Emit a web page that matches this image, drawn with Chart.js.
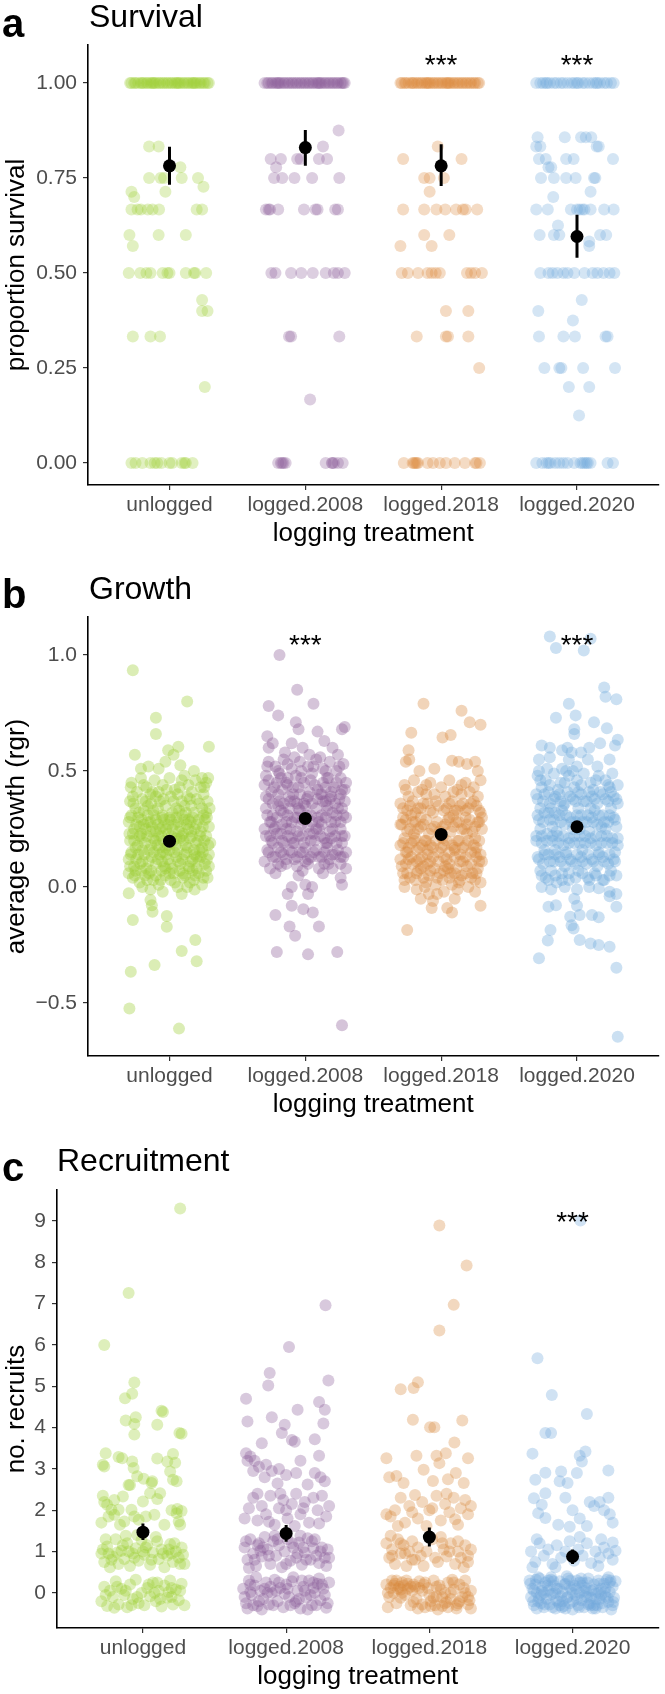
<!DOCTYPE html>
<html>
<head>
<meta charset="utf-8">
<title>Survival, growth and recruitment by logging treatment</title>
<script src="https://cdn.jsdelivr.net/npm/chart.js@4.4.1/dist/chart.umd.min.js"></script>
<style>
  html, body { margin: 0; padding: 0; background: #fff; }
  #page { position: relative; width: 665px; height: 1694px; }
  canvas { position: absolute; left: 0; display: block; }
</style>
</head>
<body>
<div id="page">
  <canvas id="survivalChart" width="665" height="556" style="top:0px"></canvas>
  <canvas id="growthChart" width="665" height="572" style="top:556px"></canvas>
  <canvas id="recruitChart" width="665" height="566" style="top:1128px"></canvas>
</div>
<script>
// categories and colours
const categories = ['unlogged', 'logged.2008', 'logged.2018', 'logged.2020'];
const baseColours = ['154,205,50', '138,92,151', '217,137,61', '111,168,220'];

// ---- a: survival ----  points are [jitter offset, proportion]
// plots where every seedling survived (proportion = 1), only the jitter offset is listed
const survTopUnlogged = [-0.29,-0.28,-0.26,-0.25,-0.23,-0.21,-0.2,-0.19,-0.17,-0.16,-0.14,-0.13,-0.11,-0.1,-0.08,-0.07,-0.05,-0.04,-0.02,-0.01,0.01,0.02,0.04,0.05,0.07,0.08,0.1,0.11,0.13,0.14,0.16,0.17,0.19,0.2,0.22,0.23,0.25,0.26,0.28,0.29,-0.12,0.06,0.18];
const survTop2008 = [-0.3,-0.28,-0.27,-0.25,-0.24,-0.22,-0.21,-0.19,-0.18,-0.16,-0.15,-0.13,-0.12,-0.1,-0.09,-0.07,-0.06,-0.04,-0.03,-0.01,0.0,0.02,0.03,0.05,0.06,0.08,0.09,0.11,0.12,0.14,0.15,0.17,0.18,0.2,0.21,0.23,0.24,0.26,0.27,0.29,0.28,-0.2,0.1];
const survTop2018 = [-0.3,-0.29,-0.27,-0.26,-0.24,-0.22,-0.21,-0.2,-0.18,-0.17,-0.15,-0.14,-0.12,-0.11,-0.09,-0.08,-0.06,-0.05,-0.03,-0.02,0.0,0.01,0.03,0.04,0.06,0.07,0.09,0.1,0.12,0.13,0.15,0.16,0.18,0.19,0.21,0.22,0.24,0.25,0.27,0.28,-0.1,0.05];
const survTop2020 = [-0.3,-0.27,-0.25,-0.22,-0.2,-0.17,-0.15,-0.12,-0.1,-0.07,-0.04,-0.02,0.01,0.04,0.06,0.09,0.12,0.14,0.17,0.2,0.22,0.25,0.27,-0.23,0.0,0.15];

const survUnlogged = [[-0.15,0.833],[-0.08,0.833],[0.08,0.778],[-0.15,0.75],[-0.065,0.75],[-0.04,0.75],[0.09,0.75],[0.21,0.75],[0.25,0.727],[-0.03,0.714],[-0.28,0.714],[-0.26,0.7],
  [-0.28,0.667],[-0.235,0.667],[-0.21,0.667],[-0.16,0.667],[-0.125,0.667],[-0.077,0.667],[0.2,0.667],[0.24,0.667],[-0.295,0.6],[-0.27,0.571],[-0.08,0.6],[0.12,0.6],
  [-0.3,0.5],[-0.215,0.5],[-0.17,0.5],[-0.14,0.5],[-0.05,0.5],[-0.015,0.5],[0,0.5],[0.12,0.5],[0.18,0.5],[0.19,0.5],[0.27,0.5],
  [0.24,0.429],[0.24,0.4],[0.28,0.4],[-0.27,0.333],[-0.14,0.333],[-0.07,0.333],[0.26,0.2],
  [-0.28,0],[-0.25,0],[-0.2,0],[-0.14,0],[-0.09,0],[-0.06,0],[0.02,0],[0.09,0],[0.11,0],[0.17,0],[0.12,0],[-0.11,0],[0.0,0]];
const surv2008 = [[0.245,0.875],[0.13,0.833],[-0.255,0.8],[-0.18,0.8],[-0.06,0.8],[-0.035,0.8],[0.1,0.8],[0.16,0.8],[-0.215,0.778],[-0.23,0.75],[-0.17,0.75],[-0.08,0.75],[0.05,0.75],[0.25,0.75],
  [-0.29,0.667],[-0.26,0.667],[-0.2,0.667],[-0.01,0.667],[0.075,0.667],[0.09,0.667],[0.22,0.667],[0.24,0.667],[-0.27,0.667],
  [-0.25,0.5],[-0.22,0.5],[-0.105,0.5],[-0.03,0.5],[0.055,0.5],[0.15,0.5],[0.21,0.5],[0.24,0.5],[0.29,0.5],
  [-0.12,0.333],[-0.105,0.333],[0.25,0.333],[0.035,0.167],
  [-0.2,0],[-0.17,0],[-0.145,0],[0.15,0],[0.195,0],[0.21,0],[0.24,0],[0.275,0],[-0.16,0],[0.2,0],[-0.18,0]];
const surv2018 = [[-0.025,0.833],[-0.28,0.8],[0.15,0.8],[-0.125,0.75],[-0.085,0.75],[0.02,0.75],[-0.085,0.714],
  [-0.28,0.667],[-0.125,0.667],[-0.035,0.667],[0.03,0.667],[0.11,0.667],[0.16,0.667],[0.18,0.667],[0.265,0.667],
  [-0.125,0.6],[0.06,0.6],[-0.3,0.571],[-0.07,0.571],
  [-0.29,0.5],[-0.245,0.5],[-0.17,0.5],[-0.1,0.5],[-0.07,0.5],[-0.04,0.5],[-0.01,0.5],[0.19,0.5],[0.22,0.5],[0.25,0.5],[0.3,0.5],
  [0.035,0.4],[0.2,0.4],[-0.18,0.333],[0.035,0.333],[0.05,0.333],[0.2,0.333],[0.28,0.25],
  [-0.275,0],[-0.21,0],[-0.18,0],[-0.17,0],[-0.1,0],[-0.06,0],[-0.01,0],[0.035,0],[0.1,0],[0.175,0],[0.25,0],[0.285,0],[-0.2,0],[0.26,0],[-0.19,0]];
const surv2020 = [[-0.29,0.857],[-0.09,0.857],[0.03,0.857],[0.065,0.857],[0.105,0.857],[-0.3,0.833],[-0.27,0.833],[0.145,0.833],[0.16,0.833],
  [-0.28,0.8],[-0.23,0.8],[-0.08,0.8],[-0.025,0.8],[0.265,0.8],[-0.21,0.778],[-0.19,0.778],
  [-0.265,0.75],[-0.17,0.75],[-0.08,0.75],[-0.01,0.75],[0.125,0.75],[0.135,0.75],[-0.175,0.7],[0.1,0.714],
  [-0.3,0.667],[-0.215,0.667],[-0.045,0.667],[0,0.667],[0.02,0.667],[0.04,0.667],[0.055,0.667],[0.1,0.667],[0.2,0.667],[0.27,0.667],
  [-0.275,0.6],[-0.17,0.6],[-0.13,0.6],[0.17,0.6],[0.215,0.6],[-0.14,0.625],[0.09,0.571],[0.09,0.583],
  [-0.27,0.5],[-0.21,0.5],[-0.18,0.5],[-0.145,0.5],[-0.1,0.5],[-0.07,0.5],[-0.02,0.5],[0.055,0.5],[0.115,0.5],[0.15,0.5],[0.195,0.5],[0.24,0.5],[0.275,0.5],
  [0.035,0.429],[-0.285,0.4],[-0.03,0.375],[-0.28,0.333],[-0.1,0.333],[-0.015,0.333],[0.21,0.333],[0.225,0.333],
  [-0.24,0.25],[-0.13,0.25],[-0.115,0.25],[0.045,0.25],[0.28,0.25],[-0.06,0.2],[0.09,0.2],[0.015,0.125],
  [-0.3,0],[-0.255,0],[-0.225,0],[-0.195,0],[-0.16,0],[-0.13,0],[-0.1,0],[-0.07,0],[-0.02,0],[0.025,0],[0.055,0],[0.07,0],[0.1,0],[0.225,0],[0.265,0],[-0.21,0],[0.04,0],[0.08,0]];
const survMean = [0.782, 0.83, 0.782, 0.596];
const survLow = [0.732, 0.782, 0.729, 0.54];
const survHigh = [0.832, 0.876, 0.839, 0.653];

// ---- b: growth ----  points are [jitter offset, relative growth rate]
const growthUnlogged = [[-0.27,0.935],[0.13,0.8],[-0.1,0.73],[-0.1,0.66],[-0.255,0.57],[0.29,0.605],[-0.01,0.59],[0.065,0.605],[0.03,0.57],[-0.03,0.54],[0.08,0.525],[-0.08,0.51],[-0.21,0.51],[-0.155,0.52],[0.18,0.5],[0.24,0.47],[0.285,0.47],
  [-0.3,-0.027],[-0.2,0.0],[-0.14,-0.01],[-0.14,-0.056],[-0.13,-0.078],[-0.125,-0.106],[-0.27,-0.142],[-0.02,-0.125],[-0.02,-0.171],[-0.05,-0.02],[0.09,-0.03],[0.19,-0.228],[0.09,-0.275],[0.2,-0.32],[-0.11,-0.336],[-0.285,-0.365],[-0.295,-0.523],[0.07,-0.61],[0.185,-0.01],
  [-0.28,0.45],[-0.21,0.47],[-0.17,0.43],[-0.11,0.46],[-0.05,0.44],[0.0,0.47],[0.04,0.42],[0.09,0.46],[0.14,0.44],[0.19,0.46],[0.23,0.43],[0.27,0.45],[-0.24,0.41],[-0.08,0.41],[0.11,0.48],[-0.14,0.4],[0.06,0.4],[0.25,0.4],
  [-0.29,0.37],[-0.25,0.34],[-0.2,0.38],[-0.16,0.35],[-0.12,0.33],[-0.07,0.37],[-0.03,0.35],[0.01,0.39],[0.05,0.34],[0.09,0.37],[0.13,0.39],[0.16,0.35],[0.2,0.38],[0.24,0.34],[0.28,0.37],[-0.27,0.39],[-0.1,0.39],[0.02,0.32],[0.18,0.32],[-0.05,0.31],[0.27,0.32],[-0.19,0.33],
  [-0.3,0.28],[-0.26,0.25],[-0.23,0.3],[-0.19,0.27],[-0.16,0.31],[-0.13,0.26],[-0.1,0.29],[-0.07,0.25],[-0.04,0.29],[-0.01,0.27],[0.02,0.25],[0.05,0.3],[0.08,0.26],[0.11,0.29],[0.14,0.25],[0.17,0.3],[0.2,0.27],[0.23,0.24],[0.26,0.29],[0.29,0.26],[-0.21,0.23],[0.0,0.3],[0.12,0.32],[-0.08,0.22],[0.25,0.31],[-0.28,0.31],
  [-0.29,0.2],[-0.25,0.17],[-0.22,0.22],[-0.18,0.19],[-0.15,0.16],[-0.12,0.21],[-0.09,0.18],[-0.06,0.22],[-0.03,0.17],[0.03,0.2],[0.06,0.16],[0.09,0.22],[0.12,0.18],[0.15,0.21],[0.18,0.16],[0.21,0.2],[0.24,0.17],[0.27,0.22],[0.3,0.19],[-0.27,0.23],[-0.01,0.23],[0.16,0.24],[-0.14,0.24],[0.07,0.24],
  [-0.3,0.12],[-0.26,0.09],[-0.23,0.14],[-0.2,0.11],[-0.17,0.08],[-0.13,0.13],[-0.1,0.1],[-0.07,0.14],[-0.04,0.09],[-0.01,0.12],[0.02,0.08],[0.05,0.13],[0.08,0.1],[0.11,0.14],[0.14,0.09],[0.17,0.12],[0.2,0.08],[0.23,0.13],[0.26,0.1],[0.29,0.14],[-0.28,0.15],[-0.05,0.15],[0.1,0.06],[0.22,0.16],[-0.15,0.06],
  [-0.27,0.04],[-0.22,0.02],[-0.18,0.05],[-0.12,0.03],[-0.08,0.01],[-0.03,0.05],[0.01,0.03],[0.06,0.0],[0.1,0.04],[0.15,0.02],[0.19,0.05],[0.24,0.01],[0.28,0.04],[-0.25,0.07],[0.03,0.06],[0.17,0.07],[-0.06,0.07],[0.27,0.07],[-0.3,0.06],[0.13,0.0],
  [-0.285,0.43],[-0.19,0.44],[-0.125,0.41],[-0.02,0.42],[0.075,0.43],[0.165,0.41],[0.255,0.43],
  [-0.265,0.36],[-0.225,0.32],[-0.175,0.37],[-0.135,0.36],[-0.085,0.34],[-0.045,0.38],[0.03,0.37],[0.07,0.33],[0.11,0.35],[0.15,0.38],[0.22,0.36],[0.295,0.34],
  [-0.29,0.3],[-0.245,0.27],[-0.205,0.29],[-0.175,0.25],[-0.14,0.28],[-0.115,0.31],[-0.085,0.27],[-0.055,0.3],[-0.025,0.25],[0.01,0.29],[0.035,0.27],[0.065,0.28],[0.095,0.31],[0.125,0.27],[0.155,0.28],[0.185,0.25],[0.215,0.29],[0.245,0.26],[0.275,0.3],
  [-0.295,0.23],[-0.26,0.2],[-0.235,0.18],[-0.205,0.21],[-0.165,0.22],[-0.135,0.18],[-0.105,0.2],[-0.075,0.17],[-0.045,0.2],[-0.015,0.18],[0.015,0.22],[0.045,0.18],[0.075,0.21],[0.105,0.2],[0.135,0.17],[0.165,0.22],[0.195,0.19],[0.225,0.22],[0.255,0.2],[0.285,0.18],
  [-0.285,0.14],[-0.245,0.12],[-0.215,0.1],[-0.185,0.14],[-0.155,0.11],[-0.115,0.15],[-0.085,0.12],[-0.055,0.11],[-0.025,0.14],[0.005,0.1],[0.035,0.15],[0.065,0.11],[0.095,0.12],[0.125,0.15],[0.155,0.11],[0.185,0.14],[0.215,0.11],[0.245,0.15],[0.275,0.12],
  [-0.29,0.09],[-0.255,0.05],[-0.21,0.07],[-0.165,0.03],[-0.135,0.07],[-0.1,0.05],[-0.065,0.03],[-0.03,0.08],[0.0,0.06],[0.04,0.02],[0.075,0.07],[0.115,0.05],[0.145,0.08],[0.18,0.03],[0.215,0.06],[0.25,0.04],[0.29,0.09],
  [-0.2,0.16],[0.0,0.16],[0.2,0.13],[-0.1,0.24],[0.1,0.23],[-0.22,0.26],[0.05,0.21],[-0.05,0.26],[0.14,0.29],[-0.16,0.28]];
const growth2008 = [[-0.19,1.0],[-0.06,0.85],[-0.27,0.78],[0.06,0.79],[-0.2,0.74],[-0.07,0.71],[-0.05,0.68],[0.09,0.67],[0.27,0.68],[0.29,0.69],[-0.28,0.65],[-0.24,0.62],[-0.1,0.62],[-0.02,0.6],[0.03,0.57],[-0.15,0.58],[0.14,0.63],[0.2,0.6],[0.24,0.57],[-0.27,0.6],
  [-0.22,0.06],[-0.05,0.05],[0.13,0.06],[0.26,0.04],[-0.1,0.0],[0.0,0.01],[0.05,0.0],[-0.13,-0.03],[0.02,-0.03],[-0.1,-0.08],[-0.015,-0.095],[0.055,-0.11],[-0.22,-0.12],[-0.116,-0.17],[-0.075,-0.21],[0.1,-0.17],[-0.21,-0.28],[0.02,-0.29],[0.235,-0.28],[0.27,-0.595],[0.27,0.01],
  [-0.27,0.54],[-0.22,0.52],[-0.16,0.55],[-0.1,0.51],[-0.04,0.54],[0.02,0.52],[0.08,0.55],[0.13,0.51],[0.18,0.54],[0.23,0.5],[0.28,0.53],[-0.19,0.49],[-0.07,0.48],[0.05,0.49],[0.16,0.47],[-0.29,0.48],[0.26,0.47],[-0.13,0.47],
  [-0.3,0.44],[-0.25,0.41],[-0.21,0.45],[-0.17,0.42],[-0.13,0.44],[-0.09,0.4],[-0.05,0.43],[-0.01,0.45],[0.03,0.41],[0.07,0.44],[0.11,0.4],[0.15,0.43],[0.19,0.41],[0.23,0.45],[0.27,0.42],[0.3,0.45],[-0.27,0.38],[-0.11,0.37],[0.01,0.38],[0.13,0.37],[0.25,0.38],[-0.19,0.37],
  [-0.29,0.34],[-0.24,0.31],[-0.2,0.35],[-0.16,0.32],[-0.12,0.34],[-0.08,0.3],[-0.04,0.33],[0.0,0.35],[0.04,0.31],[0.08,0.34],[0.12,0.31],[0.16,0.35],[0.2,0.32],[0.24,0.34],[0.28,0.31],[-0.26,0.28],[-0.14,0.28],[-0.02,0.29],[0.1,0.28],[0.22,0.28],[-0.06,0.36],[0.18,0.38],
  [-0.3,0.25],[-0.26,0.22],[-0.22,0.26],[-0.18,0.23],[-0.14,0.25],[-0.1,0.21],[-0.06,0.24],[-0.02,0.22],[0.02,0.26],[0.06,0.23],[0.1,0.25],[0.14,0.21],[0.18,0.24],[0.22,0.22],[0.26,0.25],[0.29,0.22],[-0.24,0.19],[-0.08,0.19],[0.04,0.2],[0.16,0.19],[0.27,0.19],[-0.16,0.19],
  [-0.28,0.16],[-0.24,0.13],[-0.2,0.17],[-0.16,0.14],[-0.12,0.16],[-0.08,0.12],[-0.04,0.15],[0.0,0.17],[0.04,0.13],[0.08,0.16],[0.12,0.13],[0.16,0.17],[0.2,0.14],[0.24,0.16],[0.28,0.13],[-0.3,0.11],[-0.14,0.1],[0.02,0.1],[0.14,0.1],[0.26,0.1],[-0.06,0.09],
  [-0.26,0.08],[-0.18,0.09],[0.1,0.08],[0.2,0.08],[-0.02,0.07],[0.3,0.08],
  [-0.28,0.52],[-0.2,0.5],[-0.13,0.53],[-0.03,0.5],[0.06,0.52],[0.15,0.5],[0.25,0.52],[-0.08,0.56],[0.11,0.56],
  [-0.27,0.46],[-0.23,0.43],[-0.18,0.47],[-0.14,0.45],[-0.09,0.43],[-0.03,0.47],[0.04,0.46],[0.09,0.42],[0.13,0.45],[0.17,0.47],[0.21,0.43],[0.29,0.42],
  [-0.29,0.39],[-0.24,0.36],[-0.2,0.4],[-0.16,0.36],[-0.12,0.39],[-0.08,0.37],[-0.04,0.4],[-0.01,0.36],[0.02,0.39],[0.05,0.36],[0.09,0.38],[0.12,0.4],[0.15,0.37],[0.19,0.39],[0.22,0.36],[0.26,0.4],[0.29,0.37],
  [-0.28,0.31],[-0.25,0.28],[-0.21,0.3],[-0.17,0.27],[-0.13,0.31],[-0.1,0.28],[-0.06,0.3],[-0.03,0.27],[0.01,0.31],[0.05,0.28],[0.09,0.3],[0.12,0.27],[0.15,0.3],[0.19,0.28],[0.23,0.31],[0.26,0.28],[0.3,0.3],
  [-0.29,0.22],[-0.25,0.2],[-0.21,0.23],[-0.17,0.2],[-0.13,0.22],[-0.09,0.19],[-0.05,0.22],[-0.01,0.19],[0.03,0.23],[0.07,0.2],[0.11,0.22],[0.15,0.19],[0.19,0.21],[0.23,0.19],[0.27,0.22],
  [-0.27,0.15],[-0.22,0.13],[-0.18,0.15],[-0.14,0.12],[-0.1,0.15],[-0.06,0.13],[-0.02,0.15],[0.02,0.12],[0.06,0.15],[0.1,0.13],[0.14,0.15],[0.18,0.12],[0.22,0.14],[0.26,0.13],[0.3,0.15],
  [-0.2,0.1],[0.0,0.11],[0.17,0.1],[-0.11,0.25],[0.08,0.25],[0.2,0.25],[-0.23,0.25],[-0.05,0.34],[0.16,0.33],[0.27,0.34],[-0.18,0.33]];
const growth2018 = [[-0.13,0.79],[0.15,0.76],[0.21,0.71],[0.29,0.7],[-0.22,0.665],[0.01,0.645],[0.07,0.655],[-0.24,0.59],[-0.235,0.55],[-0.26,0.54],[0.08,0.545],[0.13,0.54],[0.19,0.53],[0.25,0.54],[0.27,0.5],[-0.05,0.51],[-0.16,0.5],
  [-0.27,0.0],[-0.18,-0.01],[-0.12,0.0],[-0.09,-0.03],[-0.03,-0.03],[0.02,-0.02],[0.12,-0.01],[0.2,0.0],[0.25,-0.02],[-0.07,-0.09],[0.045,-0.09],[0.29,-0.08],[-0.25,-0.185],[-0.15,-0.05],[-0.06,-0.06],[0.1,-0.05],[0.08,-0.11],
  [-0.27,0.44],[-0.2,0.46],[-0.14,0.42],[-0.08,0.45],[0.0,0.43],[0.06,0.46],[0.12,0.42],[0.18,0.45],[0.24,0.43],[0.29,0.46],[-0.24,0.39],[-0.11,0.4],[0.03,0.39],[0.15,0.4],[0.27,0.39],
  [-0.3,0.36],[-0.25,0.33],[-0.21,0.37],[-0.17,0.34],[-0.13,0.36],[-0.08,0.33],[-0.04,0.37],[0.04,0.34],[0.08,0.37],[0.12,0.33],[0.16,0.36],[0.2,0.34],[0.24,0.37],[0.28,0.33],[-0.28,0.3],[-0.15,0.3],[0.06,0.3],[0.18,0.3],[0.3,0.3],[-0.22,0.31],
  [-0.29,0.27],[-0.25,0.24],[-0.21,0.28],[-0.17,0.25],[-0.13,0.27],[-0.09,0.23],[-0.05,0.26],[-0.01,0.24],[0.03,0.27],[0.07,0.24],[0.11,0.28],[0.15,0.25],[0.19,0.27],[0.23,0.24],[0.27,0.28],[0.3,0.25],[-0.27,0.21],[-0.11,0.2],[0.01,0.21],[0.13,0.2],[0.25,0.21],[-0.19,0.21],[0.09,0.31],
  [-0.3,0.18],[-0.26,0.15],[-0.22,0.19],[-0.18,0.16],[-0.14,0.18],[-0.1,0.14],[-0.06,0.17],[-0.02,0.15],[0.02,0.18],[0.06,0.15],[0.1,0.17],[0.14,0.14],[0.18,0.18],[0.22,0.15],[0.26,0.17],[0.29,0.14],[-0.24,0.12],[-0.08,0.11],[0.04,0.12],[0.16,0.11],[0.28,0.11],[-0.16,0.12],
  [-0.29,0.09],[-0.25,0.06],[-0.21,0.1],[-0.17,0.07],[-0.13,0.09],[-0.09,0.05],[-0.05,0.08],[-0.01,0.06],[0.03,0.09],[0.07,0.06],[0.11,0.08],[0.15,0.05],[0.19,0.09],[0.23,0.06],[0.27,0.08],[-0.27,0.03],[-0.11,0.02],[0.01,0.03],[0.13,0.02],[0.25,0.03],[-0.19,0.03],[0.08,0.01],[-0.04,0.01],
  [-0.26,0.42],[-0.17,0.41],[-0.05,0.4],[0.09,0.41],[0.21,0.41],[-0.11,0.44],[0.15,0.44],
  [-0.28,0.34],[-0.23,0.35],[-0.19,0.32],[-0.15,0.34],[-0.1,0.36],[-0.06,0.32],[-0.02,0.35],[0.02,0.33],[0.06,0.36],[0.1,0.33],[0.14,0.35],[0.18,0.33],[0.22,0.36],[0.26,0.35],[0.29,0.32],
  [-0.3,0.27],[-0.26,0.29],[-0.23,0.25],[-0.19,0.28],[-0.15,0.26],[-0.11,0.29],[-0.07,0.25],[-0.03,0.28],[0.01,0.26],[0.05,0.29],[0.09,0.26],[0.13,0.28],[0.17,0.25],[0.21,0.29],[0.25,0.26],[0.28,0.28],
  [-0.28,0.19],[-0.24,0.17],[-0.2,0.2],[-0.16,0.17],[-0.12,0.2],[-0.08,0.18],[-0.04,0.2],[0.0,0.17],[0.04,0.2],[0.08,0.18],[0.12,0.2],[0.16,0.17],[0.2,0.2],[0.24,0.18],[0.28,0.2],
  [-0.3,0.12],[-0.26,0.1],[-0.22,0.13],[-0.18,0.11],[-0.14,0.13],[-0.1,0.1],[-0.06,0.13],[-0.02,0.11],[0.02,0.13],[0.06,0.1],[0.1,0.13],[0.14,0.11],[0.18,0.13],[0.22,0.1],[0.26,0.13],[0.3,0.11],
  [-0.28,0.06],[-0.23,0.04],[-0.18,0.06],[-0.13,0.04],[-0.08,0.07],[-0.03,0.04],[0.02,0.07],[0.06,0.04],[0.1,0.06],[0.14,0.03],[0.18,0.06],[0.22,0.04],[0.26,0.06],[0.29,0.02],
  [-0.2,0.23],[0.0,0.22],[0.19,0.23],[-0.1,0.16],[0.1,0.16],[-0.25,0.15],[0.25,0.15],[-0.15,0.08],[0.05,0.08]];
const growth2020 = [[-0.2,1.08],[-0.155,1.03],[0.05,1.02],[0.1,1.07],[0.2,0.86],[0.21,0.82],[0.29,0.81],[-0.06,0.79],[-0.155,0.73],[-0.01,0.74],[0.125,0.71],[0.22,0.685],[0.3,0.635],[0.28,0.61],[-0.02,0.68],[-0.02,0.66],
  [-0.26,0.61],[-0.2,0.6],[-0.11,0.59],[-0.07,0.6],[-0.04,0.58],[0.03,0.58],[0.09,0.6],[0.17,0.62],[-0.2,0.56],[-0.28,0.55],[-0.22,0.51],[-0.28,0.5],[-0.11,0.51],[-0.06,0.55],[0.0,0.52],[-0.03,0.5],[0.08,0.55],[0.15,0.52],[0.24,0.55],
  [-0.26,0.0],[-0.19,-0.01],[-0.09,0.0],[0.0,-0.01],[0.09,0.0],[0.16,-0.005],[0.24,-0.02],[0.29,-0.03],[-0.21,-0.085],[-0.155,-0.078],[-0.02,-0.05],[0.0,-0.08],[-0.05,-0.128],[-0.04,-0.164],[-0.025,-0.178],[0.02,-0.12],[0.11,-0.12],[0.16,-0.13],[-0.195,-0.185],[-0.215,-0.23],[0.02,-0.228],[0.1,-0.243],[0.16,-0.25],[0.24,-0.257],[-0.28,-0.307],[0.29,-0.348],[0.3,-0.645],[0.24,-0.04],[0.29,-0.085],
  [-0.29,0.48],[-0.23,0.46],[-0.17,0.49],[-0.12,0.45],[-0.06,0.48],[0.0,0.46],[0.05,0.49],[0.1,0.45],[0.16,0.48],[0.21,0.46],[0.26,0.49],[-0.26,0.43],[-0.14,0.42],[-0.02,0.43],[0.12,0.42],[0.24,0.43],[0.3,0.44],[-0.08,0.5],
  [-0.3,0.4],[-0.25,0.37],[-0.21,0.41],[-0.17,0.38],[-0.13,0.4],[-0.09,0.36],[-0.05,0.39],[-0.01,0.37],[0.03,0.4],[0.07,0.37],[0.11,0.39],[0.15,0.36],[0.19,0.4],[0.23,0.37],[0.27,0.39],[0.3,0.36],[-0.27,0.34],[-0.11,0.33],[0.01,0.34],[0.13,0.33],[0.25,0.34],[-0.19,0.34],
  [-0.29,0.31],[-0.25,0.28],[-0.21,0.32],[-0.17,0.29],[-0.13,0.31],[-0.09,0.27],[-0.05,0.3],[-0.01,0.28],[0.03,0.31],[0.07,0.28],[0.11,0.3],[0.15,0.27],[0.19,0.31],[0.23,0.28],[0.27,0.3],[-0.27,0.25],[-0.15,0.24],[-0.03,0.25],[0.09,0.24],[0.21,0.25],[0.29,0.26],
  [-0.3,0.22],[-0.26,0.19],[-0.22,0.23],[-0.18,0.2],[-0.14,0.22],[-0.1,0.18],[-0.06,0.21],[-0.02,0.19],[0.02,0.22],[0.06,0.19],[0.1,0.21],[0.14,0.18],[0.18,0.22],[0.22,0.19],[0.26,0.21],[0.3,0.18],[-0.24,0.16],[-0.08,0.15],[0.04,0.16],[0.16,0.15],[0.28,0.15],[-0.16,0.16],
  [-0.29,0.13],[-0.25,0.1],[-0.21,0.14],[-0.17,0.11],[-0.13,0.13],[-0.09,0.09],[-0.05,0.12],[-0.01,0.1],[0.03,0.13],[0.07,0.1],[0.11,0.12],[0.15,0.09],[0.19,0.13],[0.23,0.1],[0.27,0.12],[-0.27,0.07],[-0.11,0.06],[0.01,0.07],[0.13,0.06],[0.25,0.07],[-0.19,0.07],
  [-0.23,0.04],[-0.06,0.03],[0.08,0.04],[0.2,0.03],[-0.15,0.02],[0.29,0.05],
  [-0.27,0.46],[-0.2,0.44],[-0.09,0.45],[0.03,0.44],[0.14,0.46],[0.23,0.44],
  [-0.29,0.38],[-0.24,0.4],[-0.2,0.36],[-0.16,0.39],[-0.12,0.37],[-0.07,0.41],[-0.03,0.38],[0.01,0.41],[0.05,0.37],[0.09,0.41],[0.13,0.38],[0.17,0.41],[0.21,0.38],[0.25,0.41],[0.29,0.38],
  [-0.28,0.29],[-0.24,0.32],[-0.2,0.29],[-0.16,0.32],[-0.12,0.28],[-0.08,0.31],[-0.04,0.28],[0.0,0.31],[0.04,0.28],[0.08,0.31],[0.12,0.28],[0.16,0.31],[0.2,0.28],[0.24,0.31],[0.28,0.29],
  [-0.3,0.2],[-0.26,0.22],[-0.22,0.2],[-0.18,0.22],[-0.14,0.19],[-0.1,0.22],[-0.06,0.19],[-0.02,0.22],[0.02,0.19],[0.06,0.22],[0.1,0.19],[0.14,0.22],[0.18,0.19],[0.22,0.22],[0.26,0.19],[0.3,0.21],
  [-0.28,0.12],[-0.24,0.14],[-0.2,0.11],[-0.16,0.14],[-0.12,0.11],[-0.08,0.14],[-0.04,0.11],[0.0,0.14],[0.04,0.11],[0.08,0.14],[0.12,0.11],[0.16,0.14],[0.2,0.11],[0.24,0.14],[0.28,0.11],
  [-0.26,0.05],[-0.21,0.03],[-0.16,0.05],[-0.11,0.03],[-0.06,0.06],[-0.01,0.04],[0.04,0.06],[0.09,0.03],[0.14,0.05],[0.19,0.03],[0.24,0.05],
  [-0.18,0.26],[0.02,0.25],[0.18,0.26],[-0.1,0.35],[0.1,0.34]];
const growthMean = [0.198, 0.296, 0.227, 0.26];
const growthLow = [0.18, 0.278, 0.209, 0.241];
const growthHigh = [0.216, 0.314, 0.245, 0.279];

// ---- c: recruitment ----  points are [jitter offset, jittered recruit count]
const recruitUnlogged = [[0.26,9.3],[-0.1,7.26],[-0.27,6.0],[-0.06,5.09],[-0.075,4.82],[-0.125,4.71],[0.13,4.41],[0.14,4.38],
  [-0.12,4.17],[-0.06,4.09],[-0.06,3.83],[0.1,4.07],[0.255,3.87],[0.27,3.85],[-0.05,4.25],
  [-0.26,3.38],[-0.17,3.29],[-0.145,3.26],[-0.28,3.1],[-0.27,3.06],[-0.075,3.18],[-0.065,3.02],[-0.04,2.82],[-0.09,2.61],[0.21,3.36],[0.17,3.18],[0.225,3.15],[0.19,2.94],[0.21,2.74],[0.235,2.7],[0.065,2.7],[0.005,2.76],[0.1,3.25],
  [-0.28,2.35],[-0.27,2.2],[-0.25,2.13],[-0.22,2.01],[-0.2,1.89],[-0.17,2.01],[-0.16,1.65],[-0.13,1.73],[-0.1,2.61],[-0.08,2.01],[-0.06,1.85],[-0.03,1.77],[0.02,1.85],[0.05,2.41],[0.08,1.89],[0.1,2.27],[0.12,2.41],[0.15,1.65],[0.2,2.0],[0.24,2.03],[0.235,1.93],[0.25,1.73],[0.26,1.65],[-0.29,1.7],[-0.2,2.25],[-0.14,2.33],[0.06,2.66],[0.0,2.21],[0.27,1.98],[-0.24,1.85],
  [-0.29,0.95],[-0.27,0.75],[-0.25,1.12],[-0.23,0.62],[-0.21,0.88],[-0.19,1.3],[-0.17,0.7],[-0.15,1.02],[-0.13,0.82],[-0.11,1.2],[-0.09,0.65],[-0.07,0.95],[-0.05,1.08],[-0.03,0.78],[-0.01,1.28],[0.01,0.92],[0.03,1.15],[0.05,0.68],[0.07,0.98],[0.09,1.35],[0.11,0.82],[0.13,1.05],[0.15,0.62],[0.17,0.9],[0.19,1.18],[0.21,0.75],[0.23,1.0],[0.25,0.85],[0.27,1.1],[0.29,0.7],[-0.26,1.3],[-0.12,1.38],[0.0,1.0],[0.1,1.25],[0.2,0.95],[-0.04,1.4],[0.28,0.92],[-0.18,0.98],
  [-0.28,1.05],[-0.22,0.8],[-0.14,1.15],[-0.06,0.85],[0.02,1.1],[0.06,0.8],[0.14,0.95],[0.22,1.2],[0.26,0.7],[-0.1,1.0],[0.18,1.05],[-0.24,0.95],
  [-0.29,-0.2],[-0.27,0.15],[-0.25,-0.32],[-0.23,0.05],[-0.21,-0.1],[-0.19,0.28],[-0.17,-0.28],[-0.15,0.1],[-0.13,-0.05],[-0.11,-0.35],[-0.09,0.2],[-0.07,-0.15],[-0.05,0.32],[-0.03,-0.25],[-0.01,0.0],[0.01,-0.3],[0.03,0.12],[0.05,-0.08],[0.07,0.25],[0.09,-0.2],[0.11,0.05],[0.13,-0.33],[0.15,0.18],[0.17,-0.12],[0.19,0.3],[0.21,-0.28],[0.23,0.08],[0.25,-0.18],[0.27,0.22],[0.29,-0.3],[0.18,0.02],[-0.2,-0.36],[0.2,0.12],[0.08,0.0],
  [-0.26,-0.05],[-0.18,0.15],[-0.12,0.05],[-0.04,-0.1],[0.04,0.2],[0.12,-0.15],[0.2,-0.1],[0.26,0.05],[0.1,0.25],[-0.08,-0.3]];
const recruit2008 = [[0.275,6.96],[0.02,5.95],[-0.115,5.32],[-0.125,5.02],[0.295,5.14],[-0.28,4.7],[0.23,4.62],[0.27,4.43],[0.08,4.43],
  [-0.27,4.15],[-0.01,4.07],[-0.03,3.87],[0.04,3.7],[0.06,3.66],[-0.17,3.62],[0.2,3.72],[0.23,3.32],[-0.1,4.25],[0.26,4.1],
  [-0.28,3.38],[-0.25,3.3],[-0.22,3.2],[-0.19,3.05],[-0.23,2.95],[-0.14,3.1],[-0.1,2.95],[-0.15,2.8],[-0.05,3.0],[0.0,2.85],[0.07,2.9],[0.2,2.9],[0.24,2.8],[0.27,2.7],[-0.27,3.2],[0.1,3.2],[-0.06,2.65],[0.15,2.62],
  [-0.29,1.8],[-0.26,2.05],[-0.23,2.3],[-0.2,1.75],[-0.17,2.1],[-0.14,1.9],[-0.11,2.35],[-0.08,1.65],[-0.05,2.05],[-0.02,2.25],[0.01,1.8],[0.04,2.15],[0.07,2.4],[0.1,1.9],[0.13,2.2],[0.16,1.7],[0.19,2.3],[0.22,2.0],[0.25,2.35],[0.28,1.85],[0.3,2.1],[-0.12,1.72],[0.0,2.0],[0.12,2.05],[-0.2,2.4],[0.23,1.68],[-0.04,2.4],[0.06,1.62],
  [-0.29,1.1],[-0.27,0.8],[-0.25,1.3],[-0.23,0.95],[-0.21,0.65],[-0.19,1.2],[-0.17,0.88],[-0.15,1.35],[-0.13,1.05],[-0.11,0.7],[-0.09,1.25],[-0.07,0.9],[-0.05,1.15],[-0.03,0.62],[-0.01,1.0],[0.01,1.3],[0.03,0.78],[0.05,1.1],[0.07,0.85],[0.09,1.22],[0.11,0.68],[0.13,0.98],[0.15,1.32],[0.17,0.8],[0.19,1.08],[0.21,0.9],[0.23,0.72],[0.25,1.1],[0.27,0.85],[0.29,1.05],[-0.26,0.6],[0.1,1.38],[-0.08,1.38],[0.2,1.3],[0.28,0.65],[-0.18,1.02],
  [-0.28,1.25],[-0.22,0.8],[-0.16,1.1],[-0.12,0.9],[-0.06,1.3],[0.0,0.7],[0.04,1.2],[0.08,0.95],[0.14,0.8],[0.18,1.25],[0.24,1.0],[0.3,0.85],[-0.2,1.15],[0.12,1.1],
  [-0.3,0.1],[-0.28,-0.25],[-0.26,0.3],[-0.24,-0.05],[-0.22,0.18],[-0.2,-0.32],[-0.18,0.05],[-0.16,-0.15],[-0.14,0.25],[-0.12,-0.28],[-0.1,0.0],[-0.08,0.32],[-0.06,-0.2],[-0.04,0.12],[-0.02,-0.35],[0.0,0.2],[0.02,-0.1],[0.04,0.28],[0.06,-0.25],[0.08,0.05],[0.1,-0.38],[0.12,0.15],[0.14,-0.12],[0.16,0.3],[0.18,-0.3],[0.2,0.0],[0.22,0.22],[0.24,-0.18],[0.26,0.1],[0.28,-0.36],[0.3,0.25],[-0.27,-0.38],[-0.21,0.38],[-0.11,0.15],[-0.01,-0.02],[0.09,-0.15],[0.19,0.12],[0.27,-0.05],[-0.17,-0.4],[0.05,0.38],[0.15,-0.4],[-0.07,0.05],[0.23,0.35],[-0.25,0.02],
  [-0.29,-0.1],[-0.25,0.2],[-0.19,-0.2],[-0.15,0.1],[-0.09,-0.3],[-0.05,0.25],[0.01,0.1],[0.07,-0.2],[0.11,0.3],[0.17,-0.05],[0.21,-0.3],[0.25,0.2],[0.29,-0.25],[-0.13,0.0],[0.03,-0.3],[0.13,0.05],[-0.23,-0.3],[0.19,0.25]];
const recruit2018 = [[0.07,8.89],[0.26,7.92],[0.17,6.97],[0.07,6.35],[-0.2,4.93],[-0.11,4.96],[-0.08,5.1],
  [-0.115,4.19],[0.005,4.01],[0.035,4.01],[0.23,4.17],[0.175,3.64],
  [-0.3,3.26],[-0.09,3.32],[0.05,3.32],[0.115,3.38],[0.07,3.14],[0.27,3.26],[-0.28,2.8],[-0.23,2.83],[-0.18,2.66],[-0.04,2.98],[0.025,2.71],[0.13,2.75],[0.185,2.9],[0.24,2.66],
  [-0.3,1.9],[-0.27,1.85],[-0.24,2.0],[-0.2,2.3],[-0.17,1.7],[-0.14,2.1],[-0.1,2.37],[-0.08,1.8],[-0.05,2.2],[-0.02,1.62],[0.02,2.05],[0.05,2.35],[0.08,1.75],[0.11,2.15],[0.14,1.95],[0.17,2.3],[0.2,1.65],[0.22,2.05],[0.25,2.25],[0.27,1.9],[0.29,2.1],[-0.22,1.62],[0.0,2.0],[0.12,2.4],[-0.12,1.95],[0.18,1.78],
  [-0.3,1.2],[-0.28,0.85],[-0.26,1.05],[-0.24,0.7],[-0.22,1.3],[-0.2,0.95],[-0.18,1.15],[-0.16,0.65],[-0.14,1.0],[-0.12,1.25],[-0.1,0.8],[-0.08,1.1],[-0.06,0.9],[0.02,1.3],[0.06,0.75],[0.1,1.05],[0.12,0.88],[0.15,1.2],[0.18,0.7],[0.2,1.0],[0.22,0.85],[0.25,1.15],[0.27,0.9],[0.29,1.05],[-0.04,0.65],[0.08,1.35],[-0.27,1.38],[0.24,0.62],
  [-0.26,0.9],[-0.2,1.2],[-0.12,0.8],[-0.02,1.0],[0.04,0.85],[0.14,1.0],[0.2,1.25],[0.27,0.75],[-0.17,0.95],[0.09,1.2],
  [-0.3,0.2],[-0.28,-0.1],[-0.26,0.3],[-0.25,0.0],[-0.23,-0.25],[-0.21,0.15],[-0.19,0.25],[-0.17,-0.05],[-0.15,0.1],[-0.13,-0.3],[-0.11,0.2],[-0.09,-0.15],[-0.07,0.28],[-0.05,0.05],[-0.03,-0.35],[-0.01,0.12],[0.01,-0.2],[0.03,0.3],[0.05,-0.08],[0.07,0.18],[0.09,-0.32],[0.11,0.0],[0.13,0.25],[0.15,-0.15],[0.17,0.08],[0.19,-0.38],[0.21,0.2],[0.23,-0.1],[0.25,0.3],[0.27,-0.28],[0.29,0.05],[-0.29,-0.35],[-0.24,0.22],[-0.2,-0.12],[-0.16,0.3],[-0.12,0.05],[-0.08,-0.38],[-0.04,0.2],[0.0,-0.05],[0.04,-0.3],[0.08,0.08],[0.12,-0.22],[0.16,0.32],[0.2,-0.25],[0.24,0.12],[0.28,-0.18],[-0.18,0.18],[-0.1,0.15],[0.06,-0.4],[-0.22,0.1],
  [-0.27,0.12],[-0.23,0.3],[-0.19,0.0],[-0.15,0.22],[-0.11,-0.22],[-0.07,0.12],[-0.03,0.25],[0.01,-0.32],[0.05,0.15],[0.09,-0.1],[0.13,-0.35],[0.17,0.25],[0.21,-0.2],[0.25,0.0],[0.29,-0.38],[-0.25,0.18],[-0.2,0.08],[-0.13,0.15],[0.03,-0.12],[0.11,-0.25],[0.19,-0.3],[0.27,-0.1],[-0.29,0.0],[-0.05,-0.28],[0.15,0.0]];
const recruit2020 = [[0.055,9.01],[-0.245,5.68],[-0.145,4.79],[0.1,4.33],[-0.19,3.87],[-0.15,3.87],
  [-0.28,3.37],[0.05,3.32],[0.09,3.42],[0.065,3.18],[0.25,2.96],[-0.19,2.91],[-0.08,2.94],[-0.09,2.7],[-0.035,2.66],[0.03,2.9],[-0.26,2.74],
  [-0.19,2.41],[-0.27,2.29],[-0.215,2.13],[-0.24,1.93],[-0.19,1.81],[0.12,2.2],[0.15,2.1],[0.19,2.2],[0.22,2.0],[0.26,1.9],[0.28,1.7],[0.0,2.0],[-0.1,1.65],[0.05,1.8],[0.1,1.62],[-0.05,2.3],[0.25,2.3],[-0.02,1.6],
  [-0.29,1.0],[-0.26,0.75],[-0.23,1.2],[-0.2,0.9],[-0.17,1.05],[-0.14,0.7],[-0.11,1.15],[-0.08,0.85],[-0.05,1.0],[-0.02,1.25],[0.01,0.78],[0.04,1.05],[0.07,0.9],[0.1,1.2],[0.13,0.72],[0.16,1.0],[0.19,0.85],[0.22,1.1],[0.25,0.95],[0.28,0.8],[0.3,1.02],[-0.25,1.3],[0.05,1.35],[0.2,1.3],[-0.12,0.62],[0.18,0.65],[-0.28,0.62],[0.28,1.22],
  [-0.3,0.3],[-0.29,-0.1],[-0.28,0.1],[-0.27,-0.3],[-0.26,0.2],[-0.25,0.0],[-0.24,-0.2],[-0.23,0.35],[-0.22,-0.05],[-0.21,0.15],[-0.2,-0.35],[-0.19,0.25],[-0.18,-0.15],[-0.17,0.05],[-0.16,-0.28],[-0.15,0.32],[-0.14,-0.02],[-0.13,0.18],[-0.12,-0.38],[-0.11,0.1],[-0.1,-0.22],[-0.09,0.28],[-0.08,-0.08],[-0.07,0.02],[-0.06,-0.32],[-0.05,0.22],[-0.04,-0.12],[-0.03,0.35],[-0.02,-0.25],[-0.01,0.08],[0.0,-0.4],[0.01,0.18],[0.02,-0.05],[0.03,0.3],[0.04,-0.3],[0.05,0.0],[0.06,-0.18],[0.07,0.25],[0.08,-0.35],[0.09,0.12],[0.1,-0.1],[0.11,0.35],[0.12,-0.25],[0.13,0.05],[0.14,-0.38],[0.15,0.2],[0.16,-0.02],[0.17,-0.3],[0.18,0.3],[0.19,-0.15],[0.2,0.1],[0.21,-0.35],[0.22,0.22],[0.23,-0.08],[0.24,0.32],[0.25,-0.22],[0.26,0.02],[0.27,-0.4],[0.28,0.15],[0.29,-0.12],[0.3,0.28],
  [-0.27,0.05],[-0.22,-0.25],[-0.17,0.3],[-0.12,0.0],[-0.07,-0.2],[-0.02,0.15],[0.03,-0.15],[0.08,0.05],[0.13,-0.12],[0.18,0.0],[0.23,0.12],[0.28,-0.3],[-0.24,0.38],[-0.14,-0.35],[-0.04,0.4],[0.06,0.35],[0.16,-0.38],[0.26,0.25],[-0.09,-0.3],[0.11,-0.28],
  [-0.295,0.22],[-0.275,-0.2],[-0.255,0.32],[-0.235,-0.12],[-0.215,0.05],[-0.195,-0.28],[-0.175,0.18],[-0.155,-0.05],[-0.135,0.28],[-0.115,-0.18],[-0.095,0.1],[-0.075,-0.35],[-0.055,0.2],[-0.035,-0.1],[-0.015,0.3],[0.005,-0.2],[0.025,0.1],[0.045,-0.35],[0.065,0.18],[0.085,-0.08],[0.105,0.25],[0.125,-0.3],[0.145,0.08],[0.165,-0.15],[0.185,0.22],[0.205,-0.25],[0.225,0.02],[0.245,-0.12],[0.265,0.3],[0.285,-0.22],[-0.25,-0.38],[-0.15,0.38],[-0.05,-0.38],[0.05,0.25],[0.15,-0.3],[0.25,0.38],[-0.2,0.0],[0.0,0.0],[0.2,-0.05],[0.1,0.0]];
const recruitMean = [1.47, 1.44, 1.35, 0.88];
const recruitLow = [1.28, 1.24, 1.12, 0.7];
const recruitHigh = [1.68, 1.64, 1.58, 1.05];

const survTicks = [0, 0.25, 0.5, 0.75, 1];
const growthTicks = [-0.5, 0, 0.5, 1];
const recruitTicks = [0, 1, 2, 3, 4, 5, 6, 7, 8, 9];

const FONT = '"Liberation Sans", Arial, Helvetica, sans-serif';

// panel letter, title and significance stars
const panelLabels = {
  id: 'panelLabels',
  afterDraw(chart, args, opts) {
    const { ctx } = chart;
    const x = chart.scales.x, y = chart.scales.y;
    ctx.save();
    ctx.fillStyle = '#000';
    ctx.textAlign = 'left';
    ctx.textBaseline = 'alphabetic';
    ctx.font = 'bold 40px ' + FONT;
    ctx.fillText(opts.letter, opts.letterPos[0], opts.letterPos[1]);
    ctx.font = '32px ' + FONT;
    ctx.fillText(opts.title, opts.titlePos[0], opts.titlePos[1]);
    ctx.font = '28px ' + FONT;
    ctx.textAlign = 'center';
    opts.stars.forEach(cat => {
      ctx.fillText('***', x.getPixelForValue(cat), y.getPixelForValue(opts.starY) + 16);
    });
    ctx.restore();
  }
};

function jitter(points, cat) {
  return points.map(p => ({ x: cat + p[0], y: p[1] }));
}

function makePanel(canvasId, cfg) {
  const datasets = [];
  // mean points on top
  datasets.push({
    type: 'scatter',
    data: cfg.mean.map((m, i) => ({ x: i + 1, y: m })),
    backgroundColor: '#000', borderWidth: 0, pointRadius: 6.5, order: 0
  });
  cfg.mean.forEach((m, i) => {
    datasets.push({
      type: 'line',
      data: [{ x: i + 1, y: cfg.low[i] }, { x: i + 1, y: cfg.high[i] }],
      borderColor: '#000', borderWidth: 3, pointRadius: 0, order: 1
    });
  });
  cfg.groups.forEach((g, i) => {
    datasets.push({
      type: 'scatter',
      data: jitter(g, i + 1),
      backgroundColor: 'rgba(' + baseColours[i] + ',' + cfg.alpha + ')',
      borderWidth: 0, pointRadius: 6, order: 2
    });
  });

  const tickFont = { family: FONT, size: 21 };
  const titleFont = { family: FONT, size: 26 };
  const gridOpts = { display: true, drawOnChartArea: false, drawTicks: true, tickLength: 5, color: '#333', lineWidth: 1.2 };
  const borderOpts = { display: true, color: '#000', width: 1.6 };

  new Chart(document.getElementById(canvasId), {
    type: 'scatter',
    data: { datasets },
    options: {
      responsive: false,
      animation: false,
      devicePixelRatio: 1,
      layout: { padding: { top: cfg.padTop, bottom: cfg.padBottom, left: 0, right: 0 } },
      plugins: {
        legend: { display: false },
        tooltip: { enabled: false },
        panelLabels: cfg.labels
      },
      scales: {
        x: {
          type: 'linear', min: 0.4, max: 4.6,
          afterBuildTicks: s => { s.ticks = categories.map((c, i) => ({ value: i + 1 })); },
          afterFit: s => { s.height = 64; },
          ticks: { callback: v => categories[Math.round(v) - 1], font: tickFont, color: '#4d4d4d', padding: 3, autoSkip: false, maxRotation: 0 },
          grid: gridOpts,
          border: borderOpts,
          title: { display: true, text: 'logging treatment', font: titleFont, color: '#000', padding: { top: 0, bottom: 0 } }
        },
        y: {
          type: 'linear', min: cfg.yMin, max: cfg.yMax,
          afterBuildTicks: s => { s.ticks = cfg.yTicks.map(v => ({ value: v })); },
          afterFit: s => { s.width = cfg.yWidth; },
          ticks: { callback: cfg.yFormat, font: tickFont, color: '#4d4d4d', padding: 6 },
          grid: gridOpts,
          border: borderOpts,
          title: { display: true, text: cfg.yTitle, font: titleFont, color: '#000', padding: { top: 1, bottom: 0 } }
        }
      }
    },
    plugins: [panelLabels]
  });
}

makePanel('survivalChart', {
  groups: [
    survUnlogged.concat(survTopUnlogged.map(d => [d, 1])),
    surv2008.concat(survTop2008.map(d => [d, 1])),
    surv2018.concat(survTop2018.map(d => [d, 1])),
    surv2020.concat(survTop2020.map(d => [d, 1]))
  ],
  mean: survMean, low: survLow, high: survHigh, alpha: 0.3,
  yMin: -0.058, yMax: 1.1, yTicks: survTicks, yFormat: v => v.toFixed(2),
  yTitle: 'proportion survival', yWidth: 88, padTop: 45, padBottom: 7,
  labels: { letter: 'a', letterPos: [2, 37], title: 'Survival', titlePos: [89, 27], stars: [3, 4], starY: 1.066 }
});

makePanel('growthChart', {
  groups: [growthUnlogged, growth2008, growth2018, growth2020],
  mean: growthMean, low: growthLow, high: growthHigh, alpha: 0.36,
  yMin: -0.728, yMax: 1.164, yTicks: growthTicks, yFormat: v => (v < 0 ? '\u2212' + Math.abs(v).toFixed(1) : v.toFixed(1)),
  yTitle: 'average growth (rgr)', yWidth: 88, padTop: 61, padBottom: 8,
  labels: { letter: 'b', letterPos: [2, 52], title: 'Growth', titlePos: [89, 43], stars: [2, 4], starY: 1.073 }
});

makePanel('recruitChart', {
  groups: [recruitUnlogged, recruit2008, recruit2018, recruit2020],
  mean: recruitMean, low: recruitLow, high: recruitHigh, alpha: 0.33,
  yMin: -0.85, yMax: 9.75, yTicks: recruitTicks, yFormat: v => String(v),
  yTitle: 'no. recruits', yWidth: 57, padTop: 62, padBottom: 2,
  labels: { letter: 'c', letterPos: [2, 53], title: 'Recruitment', titlePos: [57, 43], stars: [4], starY: 9.15 }
});
</script>
</body>
</html>
